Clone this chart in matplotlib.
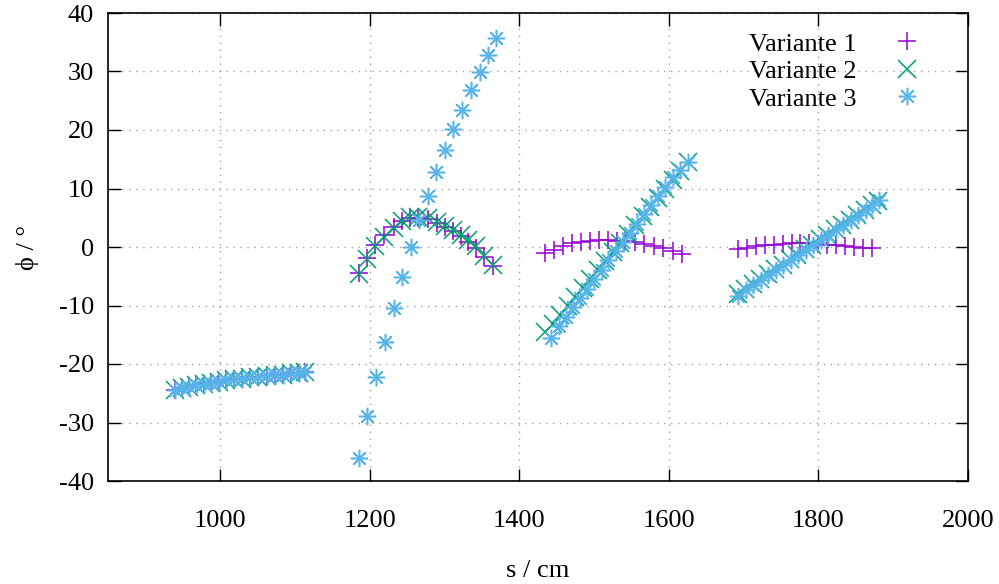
import matplotlib.pyplot as plt

# segment 1 (all three variants overlap here)
x_seg1 = [940, 949, 958, 968, 978, 988, 998, 1008, 1018, 1029, 1040, 1051, 1062, 1073, 1084, 1095, 1105, 1113]
y_seg1 = [-24.4, -24.1, -23.9, -23.6, -23.4, -23.2, -23.0, -22.8, -22.6, -22.5, -22.3, -22.2, -22.0, -21.9, -21.8, -21.6, -21.5, -21.3]

# segment 2
x_seg2 = [1185, 1196, 1207, 1219, 1232, 1243, 1254, 1265, 1278, 1290, 1301, 1312, 1322, 1331, 1342, 1353, 1365]
y1_seg2 = [-4.4, -1.9, 0.3, 2.0, 3.4, 4.4, 4.9, 5.0, 4.8, 4.1, 3.5, 2.7, 1.8, 0.9, -0.2, -1.7, -3.2]
y2_seg2 = [-4.6, -2.1, 0.1, 1.7, 3.2, 4.5, 5.1, 5.2, 5.0, 4.2, 3.6, 2.9, 2.0, 1.2, 0.1, -1.5, -3.1]
x3_seg2 = [1186, 1197, 1209, 1221, 1232, 1243, 1255, 1266, 1278, 1289, 1300, 1312, 1324, 1335, 1347, 1358, 1369]
y3_seg2 = [-36.0, -28.9, -22.3, -16.2, -10.4, -5.2, 0.0, 4.6, 8.7, 12.8, 16.6, 20.2, 23.5, 26.8, 29.9, 32.8, 35.7]

# segment 3
x1_seg3 = [1435, 1447, 1458, 1470, 1482, 1494, 1506, 1518, 1530, 1542, 1555, 1567, 1580, 1592, 1605, 1617]
y1_seg3 = [-1.0, -0.5, 0.2, 0.6, 0.9, 1.1, 1.2, 1.2, 1.1, 1.0, 0.8, 0.5, 0.2, -0.2, -0.7, -1.2]
x2_seg3 = [1435, 1445, 1455, 1465, 1475, 1485, 1495, 1505, 1515, 1525, 1535, 1545, 1555, 1565, 1575, 1585, 1595, 1605, 1615, 1625]
y2_seg3 = [-14.6, -13.1, -11.6, -10.1, -8.5, -7.0, -5.5, -3.9, -2.4, -0.9, 0.7, 2.2, 3.8, 5.3, 6.8, 8.3, 9.9, 11.4, 13.0, 14.5]
x3_seg3 = [1443, 1453, 1462, 1472, 1481, 1491, 1500, 1510, 1519, 1529, 1538, 1548, 1557, 1567, 1576, 1586, 1595, 1605, 1615, 1625]
y3_seg3 = [-15.6, -13.5, -11.9, -10.3, -8.7, -7.1, -5.5, -3.9, -2.3, -0.7, 0.9, 2.4, 4.0, 5.6, 7.1, 8.7, 10.3, 11.9, 13.2, 14.5]

# segment 4
x1_seg4 = [1692, 1704, 1716, 1728, 1740, 1752, 1764, 1776, 1788, 1800, 1812, 1824, 1836, 1848, 1860, 1872]
y1_seg4 = [-0.4, -0.2, 0.1, 0.3, 0.4, 0.5, 0.6, 0.6, 0.6, 0.5, 0.4, 0.3, 0.1, 0.0, -0.1, -0.2]
x2_seg4 = [1692, 1702, 1712, 1722, 1732, 1742, 1752, 1762, 1772, 1782, 1792, 1802, 1812, 1822, 1832, 1842, 1852, 1862, 1871, 1880]
y2_seg4 = [-8.1, -7.2, -6.4, -5.5, -4.7, -3.8, -3.0, -2.1, -1.3, -0.4, 0.4, 1.3, 2.1, 3.0, 3.8, 4.7, 5.5, 6.3, 7.1, 7.9]
x3_seg4 = [1693, 1703, 1713, 1723, 1733, 1743, 1753, 1763, 1773, 1783, 1793, 1803, 1813, 1823, 1833, 1843, 1853, 1863, 1872, 1881]
y3_seg4 = [-8.3, -7.4, -6.5, -5.7, -4.8, -4.0, -3.1, -2.2, -1.4, -0.5, 0.4, 1.2, 2.1, 2.9, 3.8, 4.6, 5.5, 6.4, 7.2, 8.0]

labels = ["Variante 1", "Variante 2", "Variante 3"]
colors = ["#9400d3", "#009e73", "#56b4e9"]
markers = ["+", "x", (8, 2, 0)]

series = [
    (x_seg1 + x_seg2 + x1_seg3 + x1_seg4, y_seg1 + y1_seg2 + y1_seg3 + y1_seg4),
    (x_seg1 + x_seg2 + x2_seg3 + x2_seg4, y_seg1 + y2_seg2 + y2_seg3 + y2_seg4),
    (x_seg1 + x3_seg2 + x3_seg3 + x3_seg4, y_seg1 + y3_seg2 + y3_seg3 + y3_seg4),
]

plt.rcParams['font.family'] = ['Liberation Serif', 'DejaVu Serif']
plt.rcParams['font.size'] = 19
plt.rcParams['axes.unicode_minus'] = False

fig = plt.figure(figsize=(9.99, 5.84), dpi=100)
ax = fig.add_axes([108/999, 1 - 481/584, 860/999, 468/584])

for (xs, ys), lab, col, mk in zip(series, labels, colors, markers):
    ax.plot(xs, ys, linestyle='none', marker=mk, color=col, markersize=12.5,
            markeredgewidth=1.1, label=lab)

ax.set_xlim(850, 2000)
ax.set_ylim(-40, 40)
ax.set_xticks(range(1000, 2001, 200))
ax.set_yticks(range(-40, 41, 10))
ax.grid(True, color='#a0a0a0', linestyle=(0, (1, 4)), linewidth=1)
ax.tick_params(direction='in', length=9, width=1, top=True, right=True)
ax.tick_params(axis='x', pad=21)
ax.tick_params(axis='y', pad=10)
for sp in ax.spines.values():
    sp.set_linewidth(1.2)

ax.set_xlabel("s / cm", labelpad=20)
ax.set_ylabel("ϕ / °", labelpad=14)

ax.legend(loc='upper right', bbox_to_anchor=(0.984, 1.004), frameon=False,
          markerfirst=False, handletextpad=0.9, labelspacing=0.15,
          borderaxespad=0.4)

fig.savefig("out.png", dpi=100)
